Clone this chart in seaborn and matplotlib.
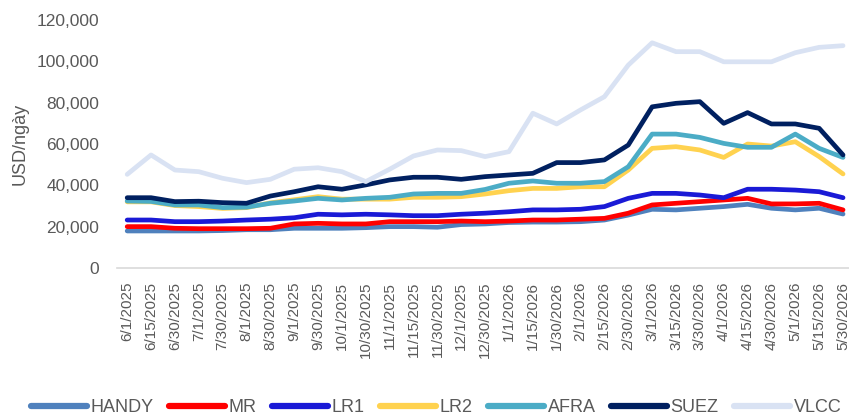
import pandas as pd
import numpy as np
import matplotlib
import matplotlib.pyplot as plt
from matplotlib.lines import Line2D
from matplotlib.ticker import FuncFormatter
import seaborn as sns

matplotlib.use('Agg')

# Data (USD/day)
dates = ['6/1/2025', '6/15/2025', '6/30/2025', '7/1/2025', '7/30/2025', '8/1/2025',
         '8/30/2025', '9/1/2025', '9/30/2025', '10/1/2025', '10/30/2025', '11/1/2025',
         '11/15/2025', '11/30/2025', '12/1/2025', '12/30/2025', '1/1/2026', '1/15/2026',
         '1/30/2026', '2/1/2026', '2/15/2026', '2/30/2026', '3/1/2026', '3/15/2026',
         '3/30/2026', '4/1/2026', '4/15/2026', '4/30/2026', '5/1/2026', '5/15/2026',
         '5/30/2026']

handy = [17900, 17900, 17900, 17900, 18100, 18500, 18500, 19200, 19200, 19200, 19500,
         20000, 20000, 19700, 21000, 21300, 22000, 22200, 22200, 22400, 23200, 25600,
         28400, 28100, 28900, 29700, 30800, 28900, 28100, 28900, 26100]
mr = [20000, 20000, 19200, 19000, 19000, 19000, 19200, 21300, 21600, 21300, 21300,
      22400, 22400, 22400, 22700, 22400, 22700, 23200, 23200, 23600, 24000, 26500,
      30500, 31300, 32100, 32900, 33700, 31000, 31000, 31300, 28100]
lr1 = [23200, 23200, 22400, 22400, 22700, 23200, 23600, 24300, 26000, 25700, 26000,
       25700, 25300, 25300, 26000, 26500, 27200, 28100, 28100, 28400, 29700, 33700,
       36100, 36100, 35300, 34000, 38100, 38100, 37700, 36900, 34000]
lr2 = [32000, 32000, 30200, 29700, 28800, 29200, 31500, 33000, 34500, 33300, 33300,
       33300, 34200, 34200, 34500, 35800, 37400, 38500, 38500, 39300, 39300, 47400,
       57900, 58700, 57100, 53500, 60000, 59000, 61100, 53900, 45500]
afra = [32400, 32200, 30500, 30500, 29200, 29400, 31300, 32400, 33700, 32900, 33700,
        34200, 35800, 36100, 36100, 38000, 41000, 42100, 41000, 41000, 41800, 49000,
        64800, 64800, 63200, 60300, 58400, 58400, 64800, 57900, 53500]
suez = [34000, 34000, 32100, 32300, 31600, 31300, 34800, 36900, 39300, 38100, 40200,
        42600, 43900, 43900, 42900, 44200, 45000, 45800, 51000, 51000, 52300, 59500,
        78000, 79700, 80500, 70000, 75200, 69700, 69700, 67600, 54700]
vlcc = [45300, 54700, 47400, 46600, 43400, 41300, 42900, 47800, 48500, 46600, 41800,
        47800, 54200, 57100, 56800, 53900, 56300, 74900, 69700, 76500, 82900, 98200,
        109000, 104700, 104700, 99800, 99800, 99800, 104200, 106800, 107600]

series_names = ['HANDY', 'MR', 'LR1', 'LR2', 'AFRA', 'SUEZ', 'VLCC']
series_values = [handy, mr, lr1, lr2, afra, suez, vlcc]
colors = ['#4F81BD', '#FF0000', '#1A1AD6', '#FFD24F', '#4BACC6', '#002060', '#D9E2F3']

# long table for seaborn
frames = []
for name, vals in zip(series_names, series_values):
    frames.append(pd.DataFrame({'pos': np.arange(len(dates)), 'value': vals, 'series': name}))
df = pd.concat(frames, ignore_index=True)

sns.set_theme(style='white')
plt.rcParams['font.family'] = ['Liberation Sans', 'DejaVu Sans']

text_color = '#595959'
fig = plt.figure(figsize=(8.49, 4.18), dpi=100)
ax = fig.add_axes([0.138, 0.359, 0.862, 0.593])

sns.lineplot(data=df, x='pos', y='value', hue='series', hue_order=series_names,
             palette=colors, linewidth=3.4, sort=False, legend=False, ax=ax)
for line in ax.get_lines():
    line.set_solid_capstyle('round')
    line.set_solid_joinstyle('round')

ax.set_xlim(-0.42, 30.25)
ax.set_ylim(0, 120000)
ax.set_yticks(np.arange(0, 120001, 20000))
ax.yaxis.set_major_formatter(FuncFormatter(lambda v, p: f'{int(v):,}'))
ax.set_xticks(np.arange(len(dates)))
ax.set_xticklabels(dates, rotation=90)
ax.tick_params(axis='x', length=0, pad=10, labelsize=11, colors=text_color)
ax.tick_params(axis='y', length=0, pad=13, labelsize=12.5, colors=text_color)
ax.set_xlabel('')
ax.set_ylabel('USD/ngày', fontsize=13, color=text_color, labelpad=6)

for side in ['top', 'right', 'left']:
    ax.spines[side].set_visible(False)
ax.spines['bottom'].set_color('#D9D9D9')
ax.spines['bottom'].set_linewidth(1.2)

handles = [Line2D([0], [0], color=c, lw=4.5, solid_capstyle='round') for c in colors]
fig.legend(handles, series_names, loc='center', bbox_to_anchor=(0.514, 0.025), ncol=7,
           frameon=False, fontsize=13, handlelength=3.1, handletextpad=0.2,
           columnspacing=0.85, labelcolor=text_color)

fig.savefig('out.png', dpi=100)
